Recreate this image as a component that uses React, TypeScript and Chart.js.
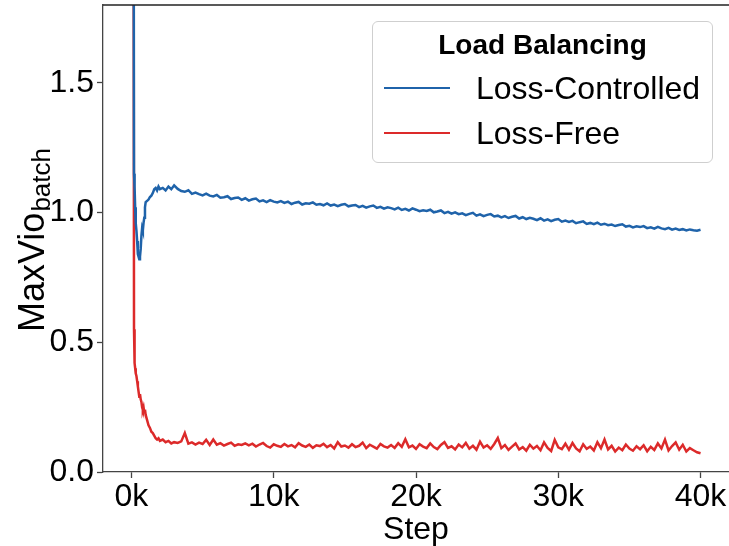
import React, { useEffect, useRef } from 'react';
import { Chart, registerables } from 'chart.js';

Chart.register(...registerables);

const FONT = '"Liberation Sans", Arial, Helvetica, sans-serif';

// Training steps (x values)
const steps = [
  120, 180, 220, 260, 300, 350, 400, 450, 500, 550, 600, 650, 700, 750, 800, 850, 900, 950, 1000,
  1100, 1200, 1300, 1400, 1500, 1600, 1700, 1800, 1900, 2000, 2200, 2400, 2600, 2800, 3000,
  3250, 3500, 3750, 4000, 4250, 4500, 4750, 5000, 5250, 5500,
  5750, 6000, 6250, 6500, 6750, 7000, 7250, 7500, 7750, 8000,
  8250, 8500, 8750, 9000, 9250, 9500, 9750, 10000, 10250, 10500,
  10750, 11000, 11250, 11500, 11750, 12000, 12250, 12500, 12750, 13000,
  13250, 13500, 13750, 14000, 14250, 14500, 14750, 15000, 15250, 15500,
  15750, 16000, 16250, 16500, 16750, 17000, 17250, 17500, 17750, 18000,
  18250, 18500, 18750, 19000, 19250, 19500, 19750, 20000, 20250, 20500,
  20750, 21000, 21250, 21500, 21750, 22000, 22250, 22500, 22750, 23000,
  23250, 23500, 23750, 24000, 24250, 24500, 24750, 25000, 25250, 25500,
  25750, 26000, 26250, 26500, 26750, 27000, 27250, 27500, 27750, 28000,
  28250, 28500, 28750, 29000, 29250, 29500, 29750, 30000, 30250, 30500,
  30750, 31000, 31250, 31500, 31750, 32000, 32250, 32500, 32750, 33000,
  33250, 33500, 33750, 34000, 34250, 34500, 34750, 35000, 35250, 35500,
  35750, 36000, 36250, 36500, 36750, 37000, 37250, 37500, 37750, 38000,
  38250, 38500, 38750, 39000, 39250, 39500, 39750, 40000,
];

// Loss-Controlled MaxVio_batch
const lossControlled = [
  4.0, 1.15, 1.10, 1.02, 0.96, 0.93, 0.89, 0.84, 0.83, 0.82, 0.83, 0.86, 0.91, 0.94, 0.93, 0.96, 0.98, 1.02, 1.04,
  1.045, 1.05, 1.06, 1.065, 1.075, 1.09, 1.095, 1.085, 1.10, 1.09, 1.095, 1.085, 1.10, 1.09, 1.105,
  1.091, 1.083, 1.080, 1.086, 1.072, 1.077, 1.071, 1.066, 1.073, 1.065,
  1.062, 1.068, 1.057, 1.059, 1.063, 1.052, 1.056, 1.058, 1.049, 1.055,
  1.046, 1.051, 1.054, 1.043, 1.047, 1.040, 1.048, 1.042, 1.039, 1.044,
  1.037, 1.042, 1.033, 1.038, 1.041, 1.031, 1.036, 1.034, 1.039, 1.030,
  1.033, 1.028, 1.035, 1.027, 1.031, 1.025, 1.030, 1.033, 1.024, 1.027,
  1.029, 1.021, 1.026, 1.019, 1.024, 1.027, 1.018, 1.022, 1.015, 1.020,
  1.017, 1.012, 1.019, 1.010, 1.014, 1.008, 1.016, 1.011, 1.005, 1.009,
  1.006, 1.011, 1.001, 1.004, 1.008, 0.998, 1.003, 0.996, 1.001, 0.994,
  0.997, 0.990, 0.995, 0.999, 0.988, 0.993, 0.986, 0.991, 0.994, 0.985,
  0.988, 0.981, 0.986, 0.979, 0.984, 0.987, 0.977, 0.982, 0.975, 0.980,
  0.976, 0.971, 0.978, 0.969, 0.974, 0.967, 0.972, 0.975, 0.965, 0.969,
  0.964, 0.968, 0.959, 0.963, 0.966, 0.956, 0.960, 0.955, 0.961, 0.953,
  0.957, 0.951, 0.954, 0.948, 0.952, 0.955, 0.946, 0.949, 0.943, 0.947,
  0.944, 0.948, 0.940, 0.943, 0.938, 0.945, 0.939, 0.936, 0.941, 0.934,
  0.938, 0.933, 0.936, 0.931, 0.935, 0.932, 0.930, 0.934,
];

// Loss-Free MaxVio_batch
const lossFree = [
  4.0, 0.55, 0.42, 0.40, 0.38, 0.37, 0.35, 0.33, 0.31, 0.29, 0.30, 0.28, 0.27, 0.25, 0.24, 0.25, 0.23, 0.24, 0.22,
  0.20, 0.18, 0.17, 0.155, 0.15, 0.14, 0.13, 0.125, 0.13, 0.12, 0.125, 0.115, 0.12, 0.11, 0.115,
  0.112, 0.118, 0.150, 0.109, 0.114, 0.106, 0.113, 0.108, 0.124, 0.104,
  0.125, 0.105, 0.111, 0.102, 0.108, 0.113, 0.101, 0.107, 0.104, 0.110,
  0.103, 0.109, 0.098, 0.106, 0.112, 0.100, 0.094, 0.107, 0.101, 0.097,
  0.108, 0.099, 0.104, 0.095, 0.111, 0.102, 0.097, 0.106, 0.093, 0.103,
  0.100, 0.109, 0.096, 0.104, 0.091, 0.115, 0.098, 0.102, 0.094, 0.107,
  0.096, 0.101, 0.113, 0.092, 0.105, 0.098, 0.090, 0.108, 0.099, 0.094,
  0.104, 0.093, 0.111, 0.097, 0.126, 0.095, 0.102, 0.089, 0.107, 0.098,
  0.092, 0.110, 0.096, 0.088, 0.104, 0.115, 0.093, 0.099, 0.087, 0.106,
  0.095, 0.112, 0.090, 0.101, 0.086, 0.117, 0.094, 0.103, 0.089, 0.108,
  0.131, 0.092, 0.104, 0.085, 0.098, 0.110, 0.087, 0.096, 0.082, 0.105,
  0.090, 0.100, 0.084, 0.114, 0.093, 0.081, 0.124, 0.095, 0.088, 0.109,
  0.086, 0.112, 0.091, 0.080, 0.107, 0.089, 0.098, 0.083, 0.115, 0.092,
  0.125, 0.087, 0.101, 0.079, 0.094, 0.084, 0.106, 0.090, 0.082, 0.099,
  0.088, 0.103, 0.080, 0.097, 0.085, 0.110, 0.091, 0.125, 0.083, 0.100,
  0.114, 0.086, 0.105, 0.079, 0.092, 0.084, 0.076, 0.072,
];

const seriesLabels = ['Loss-Controlled', 'Loss-Free'];
const seriesColors = ['#1f63aa', '#dc2a2a'];
const legendTitle = 'Load Balancing';

const xTickValues = [0, 10000, 20000, 30000, 40000];
const xTickLabels = ['0k', '10k', '20k', '30k', '40k'];
const yTickValues = [0, 0.5, 1.0, 1.5];
const yTickLabels = ['0.0', '0.5', '1.0', '1.5'];
const xTitle = 'Step';
const yTitleMain = 'MaxVio';
const yTitleSub = 'batch';

const frameAndTitlePlugin = {
  id: 'frameAndTitle',
  afterDraw(chart: any) {
    const { ctx, chartArea } = chart;
    ctx.save();
    // top spine
    ctx.strokeStyle = '#222';
    ctx.lineWidth = 1.5;
    ctx.beginPath();
    ctx.moveTo(chartArea.left, chartArea.top);
    ctx.lineTo(chartArea.right, chartArea.top);
    ctx.stroke();
    // y axis title with subscript
    const cy = (chartArea.top + chartArea.bottom) / 2 + 2;
    ctx.translate(44, cy);
    ctx.rotate(-Math.PI / 2);
    ctx.fillStyle = '#000';
    ctx.textBaseline = 'alphabetic';
    ctx.textAlign = 'left';
    ctx.font = `36px ${FONT}`;
    const w1 = ctx.measureText(yTitleMain).width;
    ctx.font = `26px ${FONT}`;
    const w2 = ctx.measureText(yTitleSub).width;
    const start = -(w1 + w2) / 2;
    ctx.font = `36px ${FONT}`;
    ctx.fillText(yTitleMain, start, 0);
    ctx.font = `26px ${FONT}`;
    ctx.fillText(yTitleSub, start + w1 + 1, 6);
    ctx.restore();
  },
};

export default function App() {
  const canvasRef = useRef<HTMLCanvasElement | null>(null);

  useEffect(() => {
    if (!canvasRef.current) return;
    const datasets = [lossControlled, lossFree].map((vals, i) => ({
      label: seriesLabels[i],
      data: vals.map((v, j) => ({ x: steps[j], y: v })),
      borderColor: seriesColors[i],
      backgroundColor: seriesColors[i],
      borderWidth: 2.5,
      pointRadius: 0,
      tension: 0,
      fill: false,
    }));
    const chart = new Chart(canvasRef.current, {
      type: 'line',
      data: { datasets },
      options: {
        animation: false,
        responsive: false,
        maintainAspectRatio: false,
        layout: { padding: { top: 5, left: 0, right: 0, bottom: 0 } },
        plugins: { legend: { display: false }, tooltip: { enabled: false } },
        scales: {
          x: {
            type: 'linear',
            min: -2000,
            max: 42000,
            afterBuildTicks: (s: any) => {
              s.ticks = xTickValues.map((v) => ({ value: v }));
            },
            afterFit: (s: any) => {
              s.height = 74;
              s.paddingLeft = 0;
              s.paddingRight = 0;
            },
            grid: { display: true, drawOnChartArea: false, drawTicks: true, tickLength: 6, tickWidth: 1.3, tickColor: '#444' },
            border: { display: true, color: '#444', width: 1.3 },
            ticks: {
              color: '#000',
              font: { size: 32, family: FONT },
              padding: 0,
              maxRotation: 0,
              autoSkip: false,
              callback: (_v: any, i: number) => xTickLabels[i],
            },
            title: { display: true, text: xTitle, color: '#000', font: { size: 32, family: FONT }, padding: { top: 0, bottom: -3 } },
          },
          y: {
            type: 'linear',
            min: 0,
            max: 1.8,
            afterBuildTicks: (s: any) => {
              s.ticks = yTickValues.map((v) => ({ value: v }));
            },
            afterFit: (s: any) => {
              s.width = 103;
              s.paddingTop = 0;
              s.paddingBottom = 0;
            },
            grid: { display: true, drawOnChartArea: false, drawTicks: true, tickLength: 6, tickWidth: 1.3, tickColor: '#444' },
            border: { display: true, color: '#444', width: 1.3 },
            ticks: {
              color: '#000',
              font: { size: 32, family: FONT },
              padding: 3,
              callback: (_v: any, i: number) => yTickLabels[i],
            },
          },
        },
      },
      plugins: [frameAndTitlePlugin],
    });
    return () => chart.destroy();
  }, []);

  return (
    <div style={{ position: 'absolute', left: 0, top: 0, width: 729, height: 546, background: '#fff', fontFamily: FONT }}>
      <canvas ref={canvasRef} width={729} height={546} style={{ display: 'block' }} />
      <div
        style={{
          position: 'absolute',
          left: 372,
          top: 21,
          width: 341,
          height: 142,
          boxSizing: 'border-box',
          border: '1px solid #cfcfcf',
          borderRadius: 6,
          background: 'rgba(255,255,255,0.85)',
        }}
      >
        <div
          style={{
            position: 'absolute',
            left: 0,
            right: 0,
            top: 7,
            textAlign: 'center',
            fontWeight: 'bold',
            fontSize: 28,
            lineHeight: '32px',
            color: '#000',
          }}
        >
          {legendTitle}
        </div>
        {seriesLabels.map((lab, i) => (
          <div key={lab} style={{ position: 'absolute', left: 0, top: 48 + i * 45, height: 36, width: '100%' }}>
            <div style={{ position: 'absolute', left: 11, width: 66, top: 17, height: 2, background: seriesColors[i] }} />
            <div style={{ position: 'absolute', left: 103, top: -1, fontSize: 32, lineHeight: '38px', color: '#000', whiteSpace: 'nowrap' }}>
              {lab}
            </div>
          </div>
        ))}
      </div>
    </div>
  );
}
